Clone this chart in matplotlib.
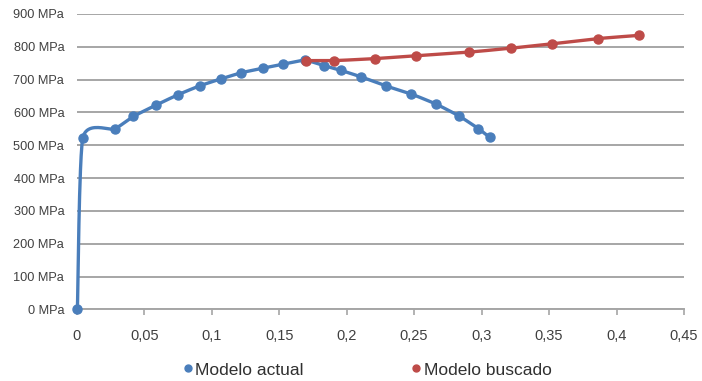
import numpy as np
import matplotlib
matplotlib.use("Agg")
import matplotlib.pyplot as plt
from matplotlib.lines import Line2D

plt.rcParams['font.family'] = ['Liberation Sans', 'DejaVu Sans']

# Data
actual_x = [0.0005, 0.0045, 0.028, 0.042, 0.0585, 0.075, 0.091, 0.1066, 0.122, 0.138, 0.153, 0.169,
            0.183, 0.196, 0.211, 0.229, 0.248, 0.266, 0.283, 0.2976, 0.306]
actual_y = [0, 522, 550, 588, 622, 654, 681, 702, 721, 735, 747, 759,
            743, 728, 708, 681, 656, 626, 590, 551, 524]
buscado_x = [0.170, 0.1905, 0.2207, 0.2517, 0.291, 0.322, 0.352, 0.386, 0.417]
buscado_y = [758, 758, 764, 773, 784, 796, 809, 825, 835]

x_ticks = [0, 0.05, 0.1, 0.15, 0.2, 0.25, 0.3, 0.35, 0.4, 0.45]
x_labels = ["0", "0,05", "0,1", "0,15", "0,2", "0,25", "0,3", "0,35", "0,4", "0,45"]
y_ticks = [0, 100, 200, 300, 400, 500, 600, 700, 800, 900]
y_labels = ["0 MPa", "100 MPa", "200 MPa", "300 MPa", "400 MPa", "500 MPa",
            "600 MPa", "700 MPa", "800 MPa", "900 MPa"]
series_names = ["Modelo actual", "Modelo buscado"]

BLUE = "#4a7ebb"
RED = "#be4b48"


def smooth(xs, ys, n=24, k=0.6):
    xs = np.asarray(xs, float); ys = np.asarray(ys, float)
    px = np.concatenate([[xs[0]], xs, [xs[-1]]])
    py = np.concatenate([[ys[0]], ys, [ys[-1]]])
    outx, outy = [], []
    for i in range(1, len(px) - 2):
        t = np.linspace(0, 1, n, endpoint=False)
        for arr, out in ((px, outx), (py, outy)):
            p0, p1, p2, p3 = arr[i - 1], arr[i], arr[i + 1], arr[i + 2]
            m1 = k * (p2 - p0) / 2.0
            m2 = k * (p3 - p1) / 2.0
            h00 = 2 * t**3 - 3 * t**2 + 1
            h10 = t**3 - 2 * t**2 + t
            h01 = -2 * t**3 + 3 * t**2
            h11 = t**3 - t**2
            out.extend(h00 * p1 + h10 * m1 + h01 * p2 + h11 * m2)
    outx.append(xs[-1]); outy.append(ys[-1])
    return np.array(outx), np.array(outy)


fig = plt.figure(figsize=(7.02, 3.81), dpi=100)
ax = fig.add_axes([0.1093, 0.1877, 0.8651, 0.7756])

cx, cy = smooth(actual_x, actual_y)
ax.plot(cx, cy, color=BLUE, lw=2.4, solid_capstyle='round', zorder=3, clip_on=False)
ax.plot(actual_x, actual_y, 'o', color=BLUE, ms=6.5, zorder=4, clip_on=False)

rx, ry = smooth(buscado_x, buscado_y)
ax.plot(rx, ry, color=RED, lw=2.4, zorder=5)
ax.plot(buscado_x, buscado_y, 'o', color=RED, ms=6.5, zorder=6)

ax.set_xlim(0, 0.45)
ax.set_ylim(0, 900)
ax.set_xticks(x_ticks)
ax.set_xticklabels(x_labels)
ax.set_yticks(y_ticks)
ax.set_yticklabels(y_labels)

ax.grid(axis='y', color='#a6a6a6', lw=1.4)
ax.set_axisbelow(True)
for s in ['top', 'right', 'left']:
    ax.spines[s].set_visible(False)
ax.spines['bottom'].set_color('#a6a6a6')
ax.spines['bottom'].set_linewidth(1.4)
ax.tick_params(axis='x', colors='#a6a6a6', length=4, width=1.2, direction='out',
               labelcolor='#404040', labelsize=10.5, pad=10)
ax.tick_params(axis='y', length=0, labelcolor='#404040', labelsize=9.2, pad=9)

handles = [Line2D([], [], ls='none', marker='o', color=BLUE, ms=5),
           Line2D([], [], ls='none', marker='o', color=RED, ms=5)]
fig.legend(handles, series_names, loc='center', bbox_to_anchor=(0.5235, 0.029),
           ncol=2, frameon=False, fontsize=12.5, handlelength=0.5,
           handletextpad=0.2, columnspacing=6.2, labelcolor='#303030',
           borderpad=0.1)

fig.savefig("out.png", dpi=100)
